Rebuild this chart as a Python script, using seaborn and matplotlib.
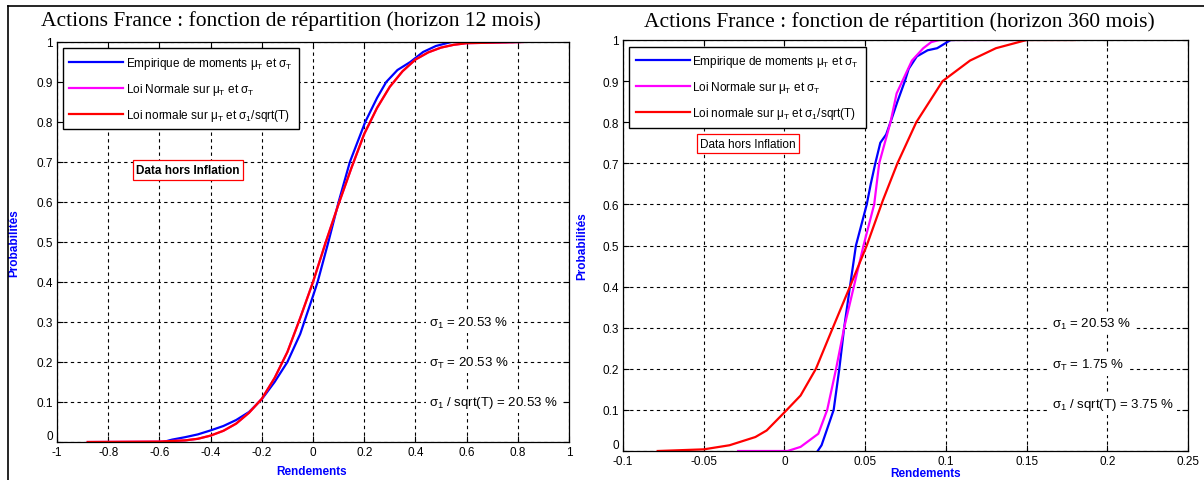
import numpy as np
import pandas as pd
import matplotlib
matplotlib.use("Agg")
import matplotlib.pyplot as plt
from matplotlib.lines import Line2D
import seaborn as sns

# ---- data (horizon 12 mois) ----
blue_12_x = [-0.585, -0.55, -0.5, -0.45, -0.4, -0.35, -0.3, -0.25, -0.2, -0.15, -0.1, -0.05,
             0.0, 0.018, 0.06, 0.1, 0.144, 0.204, 0.25, 0.286, 0.33, 0.38, 0.43, 0.48, 0.54]
blue_12_y = [0.0, 0.006, 0.012, 0.019, 0.029, 0.04, 0.055, 0.075, 0.107, 0.15, 0.2, 0.27,
             0.365, 0.4, 0.5, 0.6, 0.7, 0.8, 0.86, 0.9, 0.93, 0.95, 0.975, 0.99, 1.0]
magenta_12_x = [-0.88, -0.6, -0.5, -0.45, -0.4, -0.35, -0.3, -0.25, -0.2, -0.15, -0.1, -0.05, 0.0,
                0.05, 0.1, 0.15, 0.2, 0.25, 0.3, 0.35, 0.4, 0.45, 0.5, 0.55, 0.6, 0.82]
magenta_12_y = [0.0, 0.001, 0.004, 0.008, 0.016, 0.028, 0.046, 0.073, 0.108, 0.16, 0.225, 0.31, 0.40,
                0.50, 0.595, 0.685, 0.77, 0.835, 0.888, 0.927, 0.956, 0.974, 0.986, 0.993, 0.997, 1.0]
red_12_x = [-0.88, -0.6, -0.5, -0.45, -0.4, -0.35, -0.3, -0.25, -0.2, -0.15, -0.1, -0.05, 0.0,
            0.05, 0.1, 0.15, 0.2, 0.25, 0.3, 0.35, 0.4, 0.45, 0.5, 0.55, 0.6, 0.82]
red_12_y = [0.0, 0.001, 0.004, 0.008, 0.016, 0.028, 0.046, 0.073, 0.108, 0.16, 0.225, 0.31, 0.40,
            0.50, 0.595, 0.685, 0.77, 0.835, 0.888, 0.927, 0.956, 0.974, 0.986, 0.993, 0.997, 1.0]

# ---- data (horizon 360 mois) ----
blue_360_x = [0.0206, 0.023, 0.0265, 0.0305, 0.034, 0.037, 0.0406, 0.0443, 0.051, 0.0535, 0.0563,
              0.0594, 0.063, 0.0657, 0.07, 0.0746, 0.077, 0.082, 0.0887, 0.0946, 0.103, 0.105]
blue_360_y = [0.0, 0.014, 0.054, 0.1, 0.2, 0.3, 0.4, 0.5, 0.6, 0.65, 0.7,
              0.75, 0.77, 0.8, 0.85, 0.9, 0.93, 0.96, 0.975, 0.98, 1.0, 1.0]
magenta_360_x = [-0.0287, 0.002, 0.01, 0.021, 0.0265, 0.032, 0.037, 0.043, 0.049, 0.0556,
                 0.0587, 0.0657, 0.0695, 0.079, 0.086, 0.091, 0.096, 0.15]
magenta_360_y = [0.0, 0.0, 0.01, 0.042, 0.1, 0.2, 0.3, 0.4, 0.5, 0.6,
                 0.7, 0.8, 0.87, 0.95, 0.98, 0.995, 1.0, 1.0]
red_360_x = [-0.0785, -0.05, -0.034, -0.018, -0.011, 0.0, 0.01, 0.0195, 0.03, 0.0406, 0.051,
             0.061, 0.07, 0.0817, 0.098, 0.115, 0.131, 0.15, 0.18]
red_360_y = [0.0, 0.004, 0.014, 0.034, 0.05, 0.094, 0.135, 0.2, 0.3, 0.4, 0.5,
             0.61, 0.7, 0.8, 0.9, 0.95, 0.98, 1.0, 1.0]

labels = [r"Empirique de moments $\mu_\mathrm{T}$ et $\sigma_\mathrm{T}$",
          r"Loi Normale sur $\mu_\mathrm{T}$ et $\sigma_\mathrm{T}$",
          r"Loi normale sur $\mu_\mathrm{T}$ et $\sigma_\mathrm{1}$/sqrt(T)"]
sigma_labels_12 = [r"$\sigma_\mathrm{1}$ = 20.53 %", r"$\sigma_\mathrm{T}$ = 20.53 %",
                   r"$\sigma_\mathrm{1}$ / sqrt(T) = 20.53 %"]
sigma_labels_360 = [r"$\sigma_\mathrm{1}$ = 20.53 %", r"$\sigma_\mathrm{T}$ = 1.75 %",
                    r"$\sigma_\mathrm{1}$ / sqrt(T) = 3.75 %"]

plt.rcParams['font.family'] = ['Liberation Sans', 'DejaVu Sans']
plt.rcParams['mathtext.fontset'] = 'custom'
plt.rcParams['mathtext.rm'] = 'Liberation Sans'
plt.rcParams['mathtext.it'] = 'Liberation Sans'

fig = plt.figure(figsize=(12.04, 4.81), dpi=100)
ax1 = fig.add_axes([57/1204, 1-443/481, 512/1204, 400/481])
ax2 = fig.add_axes([623/1204, 1-452/481, 565/1204, 411/481])

colors = ['#0000ff', '#ff00ff', '#ff0000']


def fmt(v):
    return '%g' % (v + 0.0) if abs(v) > 1e-9 else '0'


def draw(ax, curves, title, xlim, xticks, box_xy, bold_box, sig_x, sig_y, sig_labels,
         ylab_x, xlab_x, xlab_y, title_x, title_pad):
    for (cx, cy), c, lab in zip(curves, colors, labels):
        df = pd.DataFrame({'x': cx, 'y': cy})
        sns.lineplot(data=df, x='x', y='y', ax=ax, color=c, linewidth=1.6, label=lab,
                     sort=False, estimator=None)
    ax.set_xlim(xlim)
    ax.set_ylim(0, 1)
    ax.set_xticks(xticks)
    ax.set_xticklabels([fmt(v) for v in xticks])
    yt = np.round(np.arange(0, 1.01, 0.1), 1)
    ax.set_yticks(yt)
    ax.set_yticklabels([fmt(v) for v in yt])
    ax.get_yticklabels()[0].set_va('bottom')
    ax.tick_params(direction='in', length=4, labelsize=8.5, top=True, right=True, pad=3)
    ax.grid(True, color='black', linestyle=(0, (3, 3)), linewidth=0.8)
    for s in ax.spines.values():
        s.set_color('black')
        s.set_linewidth(0.9)
    ax.set_title(title, family='Liberation Serif', fontsize=15.5, pad=title_pad, x=title_x)
    ax.set_xlabel('Rendements', color='#0000ff', fontweight='bold', fontsize=8.5)
    ax.set_ylabel('Probabilités', color='#0000ff', fontweight='bold', fontsize=8.5)
    ax.yaxis.set_label_coords(ylab_x, 0.5)
    ax.xaxis.set_label_coords(xlab_x, xlab_y)
    leg = ax.legend(loc='upper left', bbox_to_anchor=(0.011, 0.984), borderaxespad=0,
                    fontsize=8.5, labelspacing=0.85, handlelength=4.6, handletextpad=0.2,
                    borderpad=0.55, fancybox=False, framealpha=1, edgecolor='black')
    leg.get_frame().set_linewidth(1.0)
    ax.text(box_xy[0], box_xy[1], 'Data hors Inflation', fontsize=8.5, ha='center', va='center',
            fontweight='bold' if bold_box else 'normal',
            bbox=dict(boxstyle='square,pad=0.3', fc='white', ec='#ff0000', lw=0.9))
    for yy, t in zip(sig_y, sig_labels):
        ax.text(sig_x, yy, t, fontsize=9.5, ha='left', va='center', zorder=5,
                bbox=dict(boxstyle='square,pad=0.25', fc='white', ec='none'))


draw(ax1, [(blue_12_x, blue_12_y), (magenta_12_x, magenta_12_y), (red_12_x, red_12_y)],
     'Actions France : fonction de répartition (horizon 12 mois)',
     (-1, 1), np.round(np.arange(-1, 1.01, 0.2), 1),
     (-0.488, 0.68), True, 0.455, [0.3, 0.2, 0.1], sigma_labels_12,
     -0.072, 0.498, -0.057, 0.457, 12)

draw(ax2, [(blue_360_x, blue_360_y), (magenta_360_x, magenta_360_y), (red_360_x, red_360_y)],
     'Actions France : fonction de répartition (horizon 360 mois)',
     (-0.1, 0.25), np.round(np.arange(-0.1, 0.251, 0.05), 2),
     (-0.0226, 0.748), False, 0.166, [0.31, 0.21, 0.115], sigma_labels_360,
     -0.062, 0.535, -0.038, 0.49, 10)

# window frame lines
fig.add_artist(Line2D([8/1204, 8/1204], [0, 1-7/481], color='black', lw=1.2))
fig.add_artist(Line2D([8/1204, 1], [1-7/481, 1-7/481], color='black', lw=1.2))

fig.savefig('out.png', dpi=100)
